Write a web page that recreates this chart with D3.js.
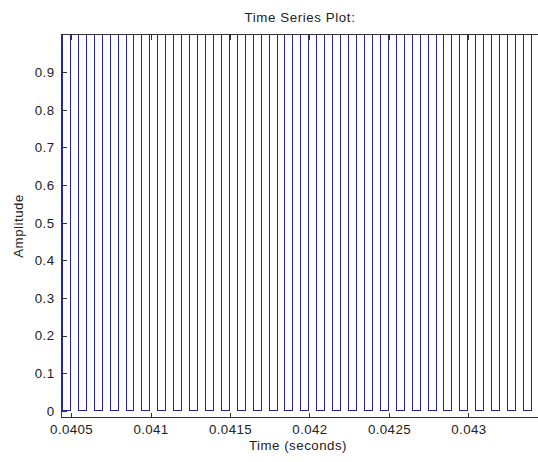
<!DOCTYPE html>
<html>
<head>
<meta charset="utf-8">
<script src="https://cdn.jsdelivr.net/npm/d3@7"></script>
<style>
  body { margin: 0; background: #fff; }
  svg { display: block; font-family: "Liberation Sans", Arial, sans-serif; }
</style>
</head>
<body>
<script>
// square wave edges (seconds)
var fallTimes = [0.040446, 0.040546, 0.040646, 0.040746, 0.040846, 0.040946, 0.041046, 0.041146,
                 0.041246, 0.041346, 0.041446, 0.041546, 0.041646, 0.041746, 0.041846, 0.041946,
                 0.042046, 0.042146, 0.042246, 0.042346, 0.042446, 0.042546, 0.042646, 0.042746,
                 0.042846, 0.042946, 0.043046, 0.043146, 0.043246, 0.043346, 0.043446];
var riseTimes = [0.040496, 0.040596, 0.040696, 0.040796, 0.040896, 0.040996, 0.041096, 0.041196,
                 0.041296, 0.041396, 0.041496, 0.041596, 0.041696, 0.041796, 0.041896, 0.041996,
                 0.042096, 0.042196, 0.042296, 0.042396, 0.042496, 0.042596, 0.042696, 0.042796,
                 0.042896, 0.042996, 0.043096, 0.043196, 0.043296, 0.043396, 0.043496];
var startTime = 0.0404, startLevel = 1;
var highLevel = 1, lowLevel = 0;

var xTicks = [0.0405, 0.041, 0.0415, 0.042, 0.0425, 0.043];
var xTickLabels = ["0.0405", "0.041", "0.0415", "0.042", "0.0425", "0.043"];
var yTicks = [0, 0.1, 0.2, 0.3, 0.4, 0.5, 0.6, 0.7, 0.8, 0.9];
var yTickLabels = ["0", "0.1", "0.2", "0.3", "0.4", "0.5", "0.6", "0.7", "0.8", "0.9"];

var W = 538, H = 462;
var box = {left: 61.5, top: 34.5, right: 539.5, bottom: 417.5};
var fontSize = "13.3px";

var x = d3.scaleLinear().domain([0.04044, 0.0434471]).range([box.left, box.right]);
var y = d3.scaleLinear().domain([-0.0173, 1]).range([box.bottom, box.top]);

// build the step points
var pts = [{t: startTime, v: startLevel}];
fallTimes.forEach(function(t){ pts.push({t: t, v: lowLevel}); });
riseTimes.forEach(function(t){ pts.push({t: t, v: highLevel}); });
pts.sort(function(a, b){ return a.t - b.t; });

var svg = d3.select("body").append("svg")
    .attr("width", W)
    .attr("height", H);

svg.append("defs").append("clipPath").attr("id", "clip")
  .append("rect")
    .attr("x", box.left).attr("y", box.top - 1)
    .attr("width", box.right - box.left).attr("height", box.bottom - box.top + 2);

var line = d3.line()
    .x(function(d){ return x(d.t); })
    .y(function(d){ return y(d.v); })
    .curve(d3.curveStepAfter);

svg.append("path")
    .datum(pts)
    .attr("clip-path", "url(#clip)")
    .attr("d", line)
    .attr("fill", "none")
    .attr("stroke", "#262690")
    .attr("stroke-width", 1)
    .attr("shape-rendering", "crispEdges");

// axes, ticks point inward like matlab
var xAxis = d3.axisBottom(x).tickValues(xTicks)
    .tickFormat(function(d, i){ return xTickLabels[i]; })
    .tickSizeInner(-5).tickSizeOuter(0).tickPadding(7);
var gx = svg.append("g").attr("transform", "translate(0," + box.bottom + ")").call(xAxis);

var xTop = d3.axisTop(x).tickValues(xTicks).tickFormat("").tickSizeInner(-5).tickSizeOuter(0);
var gxt = svg.append("g").attr("transform", "translate(0," + box.top + ")").call(xTop);

var yAxis = d3.axisLeft(y).tickValues(yTicks)
    .tickFormat(function(d, i){ return yTickLabels[i]; })
    .tickSizeInner(-5).tickSizeOuter(0).tickPadding(7);
var gy = svg.append("g").attr("transform", "translate(" + box.left + ",0)").call(yAxis);

[gx, gxt, gy].forEach(function(g){
  g.select(".domain").remove();
  g.selectAll("line").attr("stroke", "#333").attr("shape-rendering", "crispEdges");
  g.selectAll("text").attr("fill", "#222").style("font-size", fontSize)
    .style("letter-spacing", "0.4px")
    .style("font-family", "'Liberation Sans', Arial, sans-serif");
});

// frame
svg.append("rect")
    .attr("x", box.left).attr("y", box.top)
    .attr("width", box.right - box.left).attr("height", box.bottom - box.top)
    .attr("fill", "none")
    .attr("stroke", "#333")
    .attr("shape-rendering", "crispEdges");

// titles
svg.append("text")
    .attr("x", 300).attr("y", 22)
    .attr("text-anchor", "middle")
    .attr("fill", "#222")
    .style("font-size", fontSize)
    .style("letter-spacing", "0.6px")
    .text("Time Series Plot:");

svg.append("text")
    .attr("x", 298).attr("y", 450)
    .attr("text-anchor", "middle")
    .attr("fill", "#222")
    .style("font-size", fontSize)
    .style("letter-spacing", "0.5px")
    .text("Time (seconds)");

svg.append("text")
    .attr("transform", "translate(23," + ((box.top + box.bottom) / 2) + ") rotate(-90)")
    .attr("text-anchor", "middle")
    .attr("fill", "#222")
    .style("font-size", fontSize)
    .style("letter-spacing", "0.5px")
    .text("Amplitude");
</script>
</body>
</html>
